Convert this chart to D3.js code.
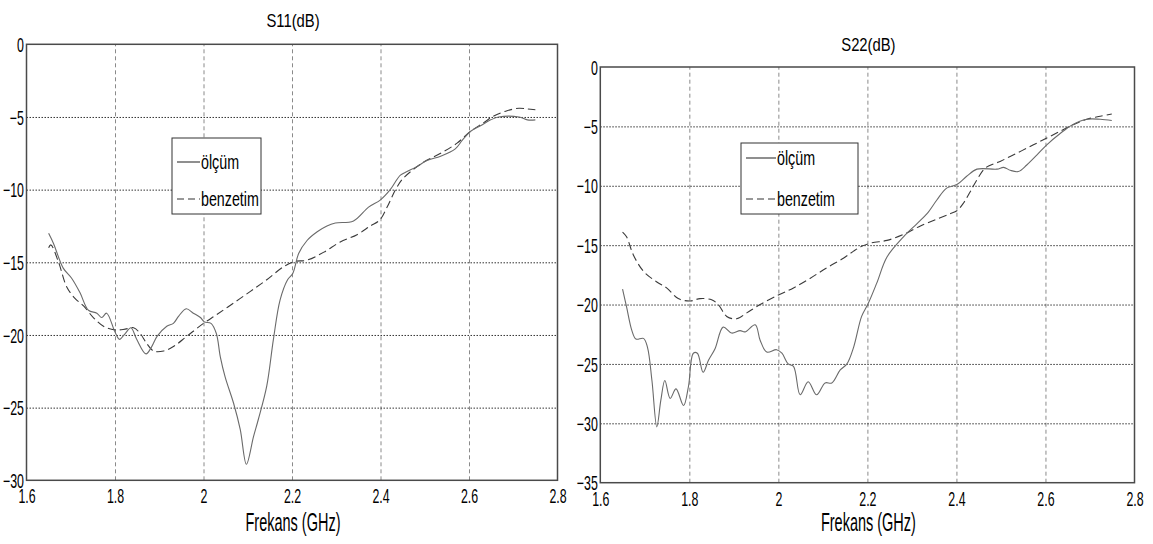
<!DOCTYPE html>
<html lang="tr">
<head>
<meta charset="UTF-8" />
<title>S11 / S22</title>
<style>
  body { margin: 0; background: #fff; }
  svg { display: block; font-family: "Liberation Sans", Arial, sans-serif; }
  .grid-v line { stroke: #8a8a8a; stroke-dasharray: 4,3; }
  .grid-h line { stroke: #333; stroke-dasharray: 1.5,1.5; }
  .grid-v path, .grid-h path { display: none; }
  .ticklab path, .ticklab line { display: none; }
  .ticklab text { font-size: 20px; fill: #000; font-family: inherit; }
</style>
</head>
<body>
<svg id="chart" width="1153" height="544"></svg>
<script src="https://d3js.org/d3.v7.min.js"></script>
<script>
  // frequency ticks (GHz)
  const freqTicks = [1.6, 1.8, 2.0, 2.2, 2.4, 2.6, 2.8];
  const s11Ticks = [-30, -25, -20, -15, -10, -5, 0];
  const s22Ticks = [-35, -30, -25, -20, -15, -10, -5, 0];
  const seriesNames = ["ölçüm", "benzetim"];

  // S11 measured, [GHz, dB]
  const s11Olcum = [
    [1.650, -13.0], [1.661, -13.7], [1.683, -15.4], [1.702, -16.1], [1.721, -17.1],
    [1.740, -18.3], [1.759, -18.5], [1.770, -18.8], [1.781, -18.5], [1.800, -19.8],
    [1.810, -20.3], [1.823, -19.9], [1.836, -19.5], [1.849, -20.3], [1.870, -21.3],
    [1.883, -20.8], [1.895, -20.1], [1.917, -19.4], [1.932, -19.2], [1.944, -18.7],
    [1.961, -18.2], [1.977, -18.5], [1.993, -18.8], [2.002, -19.1], [2.017, -19.2],
    [2.029, -19.9], [2.038, -21.5], [2.049, -22.9], [2.068, -24.7], [2.083, -26.5],
    [2.097, -28.9], [2.113, -27.0], [2.124, -25.8], [2.143, -23.5], [2.158, -20.3],
    [2.173, -17.6], [2.190, -16.2], [2.202, -15.75], [2.215, -14.4], [2.234, -13.5],
    [2.257, -12.9], [2.279, -12.5], [2.298, -12.3], [2.339, -12.15], [2.373, -11.2],
    [2.400, -10.7], [2.422, -10.0], [2.445, -9.0], [2.460, -8.76], [2.483, -8.4],
    [2.505, -8.0], [2.536, -7.7], [2.569, -7.2], [2.585, -6.6], [2.603, -6.0],
    [2.626, -5.6], [2.649, -5.2], [2.667, -5.0], [2.713, -5.0], [2.732, -5.2], [2.750, -5.2]
  ];

  // S11 simulated
  const s11Benzetim = [
    [1.650, -14.0], [1.655, -13.8], [1.672, -14.95], [1.691, -16.7], [1.710, -17.5],
    [1.729, -18.0], [1.751, -18.8], [1.774, -19.4], [1.800, -19.65], [1.823, -19.6],
    [1.842, -19.5], [1.857, -19.9], [1.872, -20.6], [1.887, -21.1], [1.910, -21.1],
    [1.932, -20.8], [1.962, -20.1], [2.000, -19.2], [2.030, -18.6], [2.068, -17.8],
    [2.106, -17.0], [2.143, -16.2], [2.181, -15.3], [2.205, -14.95], [2.234, -14.85],
    [2.272, -14.3], [2.309, -13.6], [2.347, -13.1], [2.377, -12.5], [2.398, -12.1],
    [2.415, -11.2], [2.434, -10.0], [2.449, -9.3], [2.468, -8.76], [2.498, -8.1],
    [2.536, -7.5], [2.573, -6.8], [2.603, -6.0], [2.633, -5.4], [2.656, -4.93],
    [2.686, -4.57], [2.713, -4.4], [2.732, -4.45], [2.750, -4.5]
  ];

  // S22 measured
  const s22Olcum = [
    [1.650, -18.7], [1.659, -20.2], [1.671, -22.2], [1.680, -22.9], [1.697, -22.85],
    [1.706, -23.6], [1.716, -26.4], [1.727, -30.3], [1.736, -28.05], [1.745, -26.4],
    [1.757, -27.9], [1.770, -27.1], [1.787, -28.5], [1.798, -26.9], [1.809, -24.1],
    [1.818, -24.1], [1.831, -25.7], [1.843, -24.7], [1.858, -23.7], [1.876, -21.9],
    [1.895, -22.4], [1.914, -22.2], [1.925, -22.3], [1.948, -21.7], [1.959, -23.0],
    [1.974, -24.0], [1.996, -23.8], [2.008, -24.1], [2.022, -25.0], [2.034, -25.2],
    [2.049, -27.6], [2.067, -26.5], [2.086, -27.6], [2.105, -26.6], [2.120, -26.6],
    [2.139, -25.5], [2.154, -25.0], [2.169, -23.6], [2.187, -21.0], [2.202, -19.9],
    [2.221, -18.2], [2.244, -16.0], [2.281, -14.3], [2.311, -13.2], [2.334, -12.35],
    [2.356, -11.2], [2.378, -10.2], [2.401, -9.9], [2.423, -9.2], [2.446, -8.6],
    [2.491, -8.6], [2.506, -8.45], [2.521, -8.7], [2.539, -8.8], [2.558, -8.25],
    [2.581, -7.4], [2.603, -6.55], [2.633, -5.6], [2.659, -4.9], [2.693, -4.4],
    [2.723, -4.4], [2.749, -4.5]
  ];

  // S22 simulated
  const s22Benzetim = [
    [1.650, -13.9], [1.659, -14.3], [1.674, -15.8], [1.697, -17.2], [1.727, -18.1],
    [1.749, -18.6], [1.775, -19.5], [1.802, -19.7], [1.824, -19.5], [1.850, -19.6],
    [1.865, -20.0], [1.884, -21.0], [1.906, -21.2], [1.929, -20.7], [1.959, -20.0],
    [2.000, -19.2], [2.034, -18.6], [2.071, -17.8], [2.109, -16.9], [2.146, -16.1],
    [2.169, -15.5], [2.187, -15.1], [2.210, -14.8], [2.244, -14.6], [2.281, -14.1],
    [2.318, -13.4], [2.356, -12.8], [2.386, -12.35], [2.401, -12.1], [2.416, -11.45],
    [2.431, -10.5], [2.446, -9.5], [2.465, -8.5], [2.498, -7.95], [2.536, -7.25],
    [2.573, -6.55], [2.603, -5.98], [2.633, -5.4], [2.660, -4.9], [2.693, -4.4],
    [2.723, -4.15], [2.749, -3.95]
  ];

  const svg = d3.select("#chart");

  // the reference text is strongly condensed, so texts get a horizontal squeeze
  const TICK_SX = 0.62;

  const panels = [
    {
      title: "S11(dB)", titleY: 27,
      left: 26.5, right: 557.5, top: 44.3, bottom: 480.3,
      yMin: -30, yTicks: s11Ticks,
      olcum: s11Olcum, benzetim: s11Benzetim,
      legend: { x: 172, y: 138, w: 89, h: 76, row1: 24, row2: 61, lineW: 23 }
    },
    {
      title: "S22(dB)", titleY: 50.5,
      left: 600.3, right: 1134.5, top: 67, bottom: 482.7,
      yMin: -35, yTicks: s22Ticks,
      olcum: s22Olcum, benzetim: s22Benzetim,
      legend: { x: 741, y: 143, w: 117, h: 71, row1: 15, row2: 56, lineW: 30 }
    }
  ];

  panels.forEach(drawPanel);

  function drawPanel(p) {
    const x = d3.scaleLinear().domain([1.6, 2.8]).range([p.left, p.right]);
    const y = d3.scaleLinear().domain([p.yMin, 0]).range([p.bottom, p.top]);
    const plotH = p.bottom - p.top;
    const plotW = p.right - p.left;
    const g = svg.append("g");

    // grid
    g.append("g").attr("class", "grid-v")
      .attr("transform", `translate(0,${p.bottom})`)
      .call(d3.axisBottom(x).tickValues(freqTicks.slice(1, -1)).tickSize(-plotH).tickFormat(""));
    g.append("g").attr("class", "grid-h")
      .attr("transform", `translate(${p.left},0)`)
      .call(d3.axisLeft(y).tickValues(p.yTicks.slice(1, -1)).tickSize(-plotW).tickFormat(""));

    // tick labels
    g.append("g").attr("class", "ticklab")
      .attr("transform", `translate(0,${p.bottom})`)
      .call(d3.axisBottom(x).tickValues(freqTicks).tickSize(0).tickPadding(0).tickFormat(d3.format("~g")))
      .selectAll("text")
      .attr("y", 23).attr("dy", null)
      .attr("transform", `scale(${TICK_SX},1)`);
    g.append("g").attr("class", "ticklab")
      .attr("transform", `translate(${p.left},0)`)
      .call(d3.axisLeft(y).tickValues(p.yTicks).tickSize(0).tickFormat(d3.format("~g")))
      .selectAll("text")
      .attr("x", -2.5 / TICK_SX).attr("dy", "0.36em")
      .attr("transform", `scale(${TICK_SX},1)`);

    // lines
    const line = d3.line()
      .x(d => x(d[0]))
      .y(d => y(d[1]))
      .curve(d3.curveCatmullRom.alpha(0.5));

    g.append("path").datum(p.benzetim)
      .attr("d", line)
      .attr("fill", "none")
      .attr("stroke", "#3a3a3a")
      .attr("stroke-width", 1.1)
      .attr("stroke-dasharray", "8,4");
    g.append("path").datum(p.olcum)
      .attr("d", line)
      .attr("fill", "none")
      .attr("stroke", "#6a6a6a")
      .attr("stroke-width", 1.1);

    // frame
    g.append("rect")
      .attr("x", p.left).attr("y", p.top)
      .attr("width", plotW).attr("height", plotH)
      .attr("fill", "none").attr("stroke", "#4a4a4a").attr("stroke-width", 1.5);

    // title and x label
    const cx = (p.left + p.right) / 2 + 1;
    g.append("text")
      .attr("transform", `translate(${cx},${p.titleY}) scale(0.78,1)`)
      .attr("text-anchor", "middle")
      .attr("font-size", 19).attr("fill", "#000")
      .text(p.title);
    g.append("text")
      .attr("transform", `translate(${cx},531) scale(0.58,1)`)
      .attr("text-anchor", "middle")
      .attr("font-size", 25).attr("fill", "#000")
      .text("Frekans (GHz)");

    // legend
    const L = p.legend;
    const lg = g.append("g").attr("transform", `translate(${L.x},${L.y})`);
    lg.append("rect")
      .attr("width", L.w).attr("height", L.h)
      .attr("fill", "#fff").attr("stroke", "#333").attr("stroke-width", 1);
    [L.row1, L.row2].forEach((ry, i) => {
      lg.append("line")
        .attr("x1", 5).attr("x2", 5 + L.lineW)
        .attr("y1", ry).attr("y2", ry)
        .attr("stroke", "#333")
        .attr("stroke-width", 1.1)
        .attr("stroke-dasharray", i === 0 ? null : "7,4");
      lg.append("text")
        .attr("transform", `translate(${6 + L.lineW},${ry + 7}) scale(0.68,1)`)
        .attr("font-size", 21).attr("fill", "#000")
        .text(seriesNames[i]);
    });
  }
</script>
</body>
</html>
